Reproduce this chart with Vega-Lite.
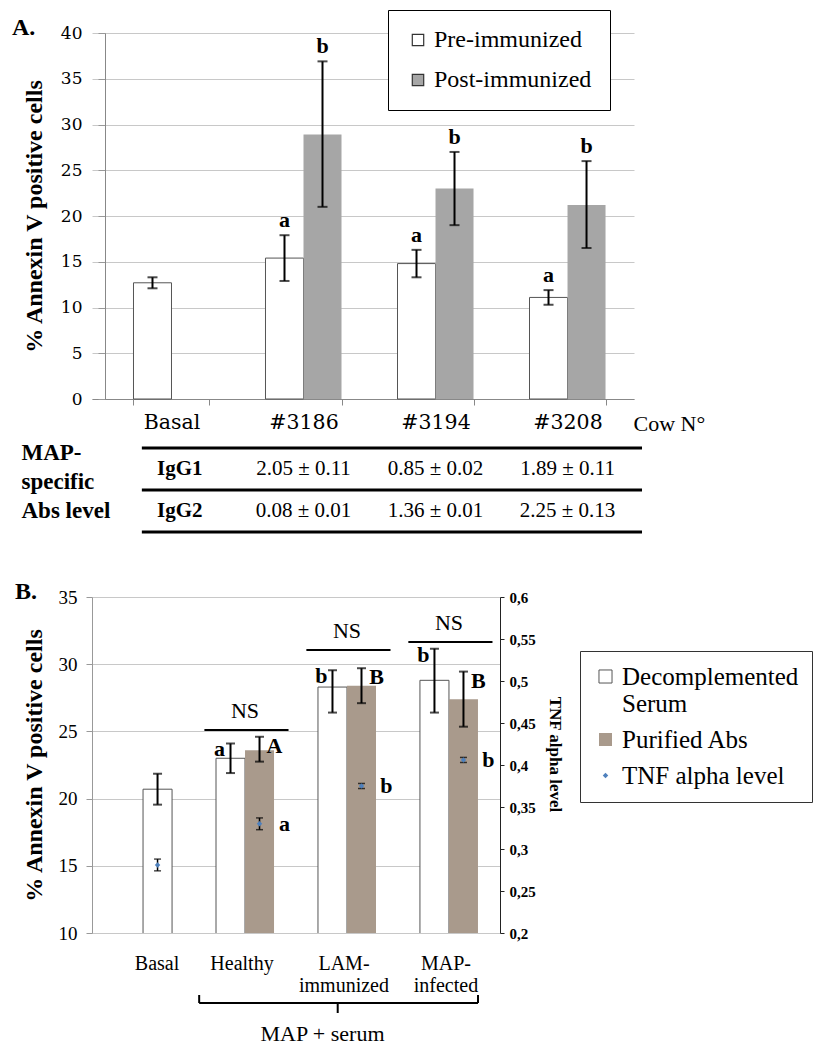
{
"$schema":"https://vega.github.io/schema/vega-lite/v6.json",
"background":"white",
"padding":{"left":12,"top":9,"right":0,"bottom":0},
"bounds":"flush",
"spacing":40,
"resolve":{"scale":{"fill":"independent","xOffset":"independent"},"legend":{"fill":"independent"}},
"config":{
  "view":{"stroke":null},
  "font":"Liberation Serif",
  "axis":{"gridColor":"#c8c8c8","domainColor":"#999999","tickColor":"#999999","labelColor":"black","titleColor":"black"},
  "legend":{"labelColor":"black"}
},
"vconcat":[
{
 "width":542,"height":366,
 "title":{"text":"A.","anchor":"start","frame":"group","dx":-80,"dy":18,"offset":-12,"fontSize":24,"fontWeight":"bold","font":"Liberation Serif","color":"black"},
 "data":{"values":[
  {"cow":"Basal","group":"Pre-immunized","value":12.7,"lo":12.1,"hi":13.3,"letter":""},
  {"cow":"#3186","group":"Pre-immunized","value":15.4,"lo":12.9,"hi":17.9,"letter":"a"},
  {"cow":"#3186","group":"Post-immunized","value":28.9,"lo":21.0,"hi":36.9,"letter":"b"},
  {"cow":"#3194","group":"Pre-immunized","value":14.8,"lo":13.3,"hi":16.3,"letter":"a"},
  {"cow":"#3194","group":"Post-immunized","value":23.0,"lo":19.0,"hi":27.0,"letter":"b"},
  {"cow":"#3208","group":"Pre-immunized","value":11.1,"lo":10.3,"hi":11.9,"letter":"a"},
  {"cow":"#3208","group":"Post-immunized","value":21.2,"lo":16.5,"hi":26.0,"letter":"b"}
 ]},
 "encoding":{
  "x":{"field":"cow","type":"nominal","sort":null,
       "scale":{"domain":["Basal","#3186","#3194","#3208"],"paddingInner":0.4242,"paddingOuter":0.265,"align":0.593},
       "axis":{"title":"Cow N°","titleAngle":0,"titleX":541,"titleY":24,"titleAlign":"left","titleBaseline":"middle","titleFontWeight":"normal","titleFontSize":22,"titleFont":"Liberation Serif",
               "labelAngle":0,"labelFont":"DejaVu Serif","labelFontSize":20.5,"labelPadding":7,"tickBand":"extent","tickSize":6,"domainColor":"#888888","tickColor":"#888888"}},
  "xOffset":{"field":"group","type":"nominal","scale":{"domain":["Pre-immunized","Post-immunized"]}}
 },
 "layer":[
  {"mark":{"type":"bar","stroke":"#555555","strokeWidth":1},
   "encoding":{
    "y":{"field":"value","type":"quantitative","scale":{"domain":[0,40],"nice":false},
         "axis":{"title":"% Annexin V positive cells","titleFontSize":24,"titleFont":"Liberation Serif","titleFontWeight":"bold","titlePadding":14,
                 "labelFont":"DejaVu Serif","labelFontSize":17,"labelPadding":16,"tickSize":7,"values":[0,5,10,15,20,25,30,35,40],"offset":-13,"grid":true,"domainColor":"#888888","tickColor":"#999999"}},
    "fill":{"field":"group","type":"nominal","scale":{"domain":["Pre-immunized","Post-immunized"],"range":["#ffffff","#a6a6a6"]},
            "legend":{"title":null,"orient":"none","legendX":296,"legendY":-23,"labelFontSize":24,"labelFont":"Liberation Serif","symbolType":"square","symbolSize":130,"symbolStrokeColor":"#333333","symbolStrokeWidth":1.2,"padding":18,"rowPadding":16,"labelOffset":4,"strokeColor":"black","fillColor":"white","labelLimit":300}},
    "strokeOpacity":{"condition":{"test":"datum.group === 'Post-immunized'","value":0},"value":1}
   }},
  {"mark":{"type":"rule","color":"black","strokeWidth":2},
   "encoding":{"y":{"field":"lo","type":"quantitative"},"y2":{"field":"hi"}}},
  {"mark":{"type":"tick","color":"black","thickness":2,"size":10},
   "encoding":{"y":{"field":"lo","type":"quantitative"}}},
  {"mark":{"type":"tick","color":"black","thickness":2,"size":10},
   "encoding":{"y":{"field":"hi","type":"quantitative"}}},
  {"transform":[{"filter":"datum.letter !== ''"}],
   "mark":{"type":"text","baseline":"alphabetic","dy":-8,"fontSize":22,"fontWeight":"bold","font":"Liberation Serif","color":"black"},
   "encoding":{"y":{"field":"hi","type":"quantitative"},"text":{"field":"letter"}}}
 ]
},
{
 "width":542,"height":118,
 "layer":[
  {"data":{"values":[{"row":"IgG1","edge":"top","from":"Basal","to":"#3208"},{"row":"IgG2","edge":"top","from":"Basal","to":"#3208"}]},
   "mark":{"type":"rule","color":"black","strokeWidth":3},
   "encoding":{
    "x":{"field":"from","type":"nominal","bandPosition":0.11,"scale":{"domain":["Basal","#3186","#3194","#3208"],"paddingInner":0.4242,"paddingOuter":0.265,"align":0.593},"axis":null},
    "x2":{"field":"to","bandPosition":1.48},
    "y":{"field":"row","type":"nominal","bandPosition":0,"scale":{"domain":["IgG1","IgG2"],"paddingInner":0,"paddingOuter":0.405,"align":0.265},
         "axis":{"title":["MAP-","specific","Abs level"],"labels":false,"ticks":false,"domain":false,"grid":false,"titleAngle":0,"titleX":-71,"titleY":2,"titleAlign":"left","titleBaseline":"top","titleLineHeight":29,"titleFontSize":23,"titleFontWeight":"bold","titleFont":"Liberation Serif"}}
   }},
  {"data":{"values":[{"row":"IgG2","edge":"bottom","from":"Basal","to":"#3208"}]},
   "mark":{"type":"rule","color":"black","strokeWidth":3},
   "encoding":{
    "x":{"field":"from","type":"nominal","bandPosition":0.11},
    "x2":{"field":"to","bandPosition":1.48},
    "y":{"field":"row","type":"nominal","bandPosition":1}
   }},
  {"data":{"values":[
    {"col":"Basal","row":"IgG1","text":"IgG1"},
    {"col":"Basal","row":"IgG2","text":"IgG2"}
   ]},
   "mark":{"type":"text","fontSize":21,"fontWeight":"bold","font":"Liberation Serif","color":"black","baseline":"middle"},
   "encoding":{
    "x":{"field":"col","type":"nominal","bandPosition":0.61},
    "y":{"field":"row","type":"nominal"},
    "text":{"field":"text"}
   }},
  {"data":{"values":[
    {"col":"#3186","row":"IgG1","text":"2.05 ± 0.11"},
    {"col":"#3194","row":"IgG1","text":"0.85 ± 0.02"},
    {"col":"#3208","row":"IgG1","text":"1.89 ± 0.11"},
    {"col":"#3186","row":"IgG2","text":"0.08 ± 0.01"},
    {"col":"#3194","row":"IgG2","text":"1.36 ± 0.01"},
    {"col":"#3208","row":"IgG2","text":"2.25 ± 0.13"}
   ]},
   "mark":{"type":"text","fontSize":21,"font":"Liberation Serif","color":"black","baseline":"middle"},
   "encoding":{
    "x":{"field":"col","type":"nominal"},
    "y":{"field":"row","type":"nominal"},
    "text":{"field":"text"}
   }}
 ]
},
{
 "width":408,"height":336,
 "title":{"text":"B.","anchor":"start","frame":"group","dx":-77,"dy":12,"offset":-4,"fontSize":24,"fontWeight":"bold","font":"Liberation Serif","color":"black"},
 "resolve":{"scale":{"y":"independent"}},
 "layer":[
  {"data":{"values":[
    {"group":"Basal","series":"Decomplemented Serum","slot":"2","value":20.7,"lo":19.55,"hi":21.85,"letter":""},
    {"group":"Healthy","series":"Decomplemented Serum","slot":"1","value":23.0,"lo":21.9,"hi":24.1,"letter":"a"},
    {"group":"Healthy","series":"Purified Abs","slot":"2","value":23.6,"lo":22.75,"hi":24.6,"letter":"A"},
    {"group":"LAM-immunized","series":"Decomplemented Serum","slot":"1","value":28.3,"lo":26.4,"hi":29.55,"letter":"b"},
    {"group":"LAM-immunized","series":"Purified Abs","slot":"2","value":28.4,"lo":27.1,"hi":29.7,"letter":"B"},
    {"group":"MAP-infected","series":"Decomplemented Serum","slot":"1","value":28.8,"lo":26.4,"hi":31.15,"letter":"b"},
    {"group":"MAP-infected","series":"Purified Abs","slot":"2","value":27.4,"lo":25.35,"hi":29.45,"letter":"B"}
   ]},
   "layer":[
    {"mark":{"type":"bar","stroke":"#555555","strokeWidth":1,"clip":true},
     "encoding":{
      "x":{"field":"group","type":"nominal","sort":null,
           "scale":{"domain":["Basal","Healthy","LAM-immunized","MAP-infected"],"paddingInner":0.431,"paddingOuter":0.216},
           "axis":{"title":null,"labelAngle":0,"domain":false,"ticks":false,"labelPadding":20,"labelFontSize":20,"labelFont":"Liberation Serif","labelLineHeight":22,"labelBaseline":"top",
                   "labelOffset":{"condition":{"test":"datum.value === 'Basal'","value":14},"value":-3},
                   "labelExpr":"datum.value == 'LAM-immunized' ? ['LAM-','immunized'] : datum.value == 'MAP-infected' ? ['MAP-','infected'] : datum.label"}},
      "xOffset":{"field":"slot","type":"nominal","scale":{"domain":["1","2"]}},
      "y":{"field":"value","type":"quantitative","scale":{"domain":[10,35],"nice":false,"zero":false},
           "axis":{"title":"% Annexin V positive cells","titleFontSize":24,"titleFont":"Liberation Serif","titleFontWeight":"bold","titlePadding":12,
                   "labelFontSize":19,"labelFont":"Liberation Serif","labelPadding":9,"tickSize":6,"values":[10,15,20,25,30,35],"grid":true,"domainColor":"#999999"}},
      "fill":{"field":"series","type":"nominal","scale":{"domain":["Decomplemented Serum","Purified Abs","TNF alpha level"],"range":["#ffffff","#a99a8c","#4f81bd"]},
              "legend":{"title":null,"orient":"none","legendX":488,"legendY":54,"labelFontSize":25,"labelFont":"Liberation Serif","labelLineHeight":29,"labelLimit":400,
                        "labelExpr":"datum.label == 'Decomplemented Serum' ? ['Decomplemented','Serum'] : datum.label",
                        "symbolType":"square","symbolSize":170,"symbolStrokeColor":"#555555","symbolStrokeWidth":1,"padding":13,"rowPadding":10,"labelOffset":4,"strokeColor":"#333333","fillColor":"white",
                        "encode":{"symbols":{"update":{"shape":{"signal":"datum.value == 'TNF alpha level' ? 'diamond' : 'square'"},"size":{"signal":"datum.value == 'TNF alpha level' ? 30 : 170"},"strokeOpacity":{"signal":"datum.value == 'Decomplemented Serum' ? 1 : 0"}}}}}},
      "strokeOpacity":{"condition":{"test":"datum.series === 'Purified Abs'","value":0},"value":1}
     }},
    {"mark":{"type":"rule","color":"black","strokeWidth":2},
     "encoding":{"x":{"field":"group","type":"nominal"},"xOffset":{"field":"slot","type":"nominal"},"y":{"field":"lo","type":"quantitative"},"y2":{"field":"hi"}}},
    {"mark":{"type":"tick","color":"black","thickness":2,"size":9},
     "encoding":{"x":{"field":"group","type":"nominal"},"xOffset":{"field":"slot","type":"nominal"},"y":{"field":"lo","type":"quantitative"}}},
    {"mark":{"type":"tick","color":"black","thickness":2,"size":9},
     "encoding":{"x":{"field":"group","type":"nominal"},"xOffset":{"field":"slot","type":"nominal"},"y":{"field":"hi","type":"quantitative"}}},
    {"transform":[{"filter":"datum.series === 'Decomplemented Serum' && datum.letter !== ''"}],
     "mark":{"type":"text","baseline":"middle","dx":-11,"dy":6,"fontSize":22,"fontWeight":"bold","font":"Liberation Serif","color":"black"},
     "encoding":{"x":{"field":"group","type":"nominal"},"xOffset":{"field":"slot","type":"nominal"},"y":{"field":"hi","type":"quantitative"},"text":{"field":"letter"}}},
    {"transform":[{"filter":"datum.series === 'Purified Abs'"}],
     "mark":{"type":"text","baseline":"middle","dx":15,"dy":9,"fontSize":22,"fontWeight":"bold","font":"Liberation Serif","color":"black"},
     "encoding":{"x":{"field":"group","type":"nominal"},"xOffset":{"field":"slot","type":"nominal"},"y":{"field":"hi","type":"quantitative"},"text":{"field":"letter"}}},
    {"data":{"values":[
      {"group":"Healthy","level":25.1,"label":"NS"},
      {"group":"LAM-immunized","level":31.05,"label":"NS"},
      {"group":"MAP-infected","level":31.65,"label":"NS"}
     ]},
     "layer":[
      {"mark":{"type":"rule","color":"black","strokeWidth":2},
       "encoding":{"x":{"field":"group","type":"nominal","bandPosition":-0.2},"x2":{"field":"group","bandPosition":1.25},"y":{"field":"level","type":"quantitative"}}},
      {"mark":{"type":"text","baseline":"alphabetic","dy":-12,"fontSize":22,"font":"Liberation Serif","color":"black"},
       "encoding":{"x":{"field":"group","type":"nominal","bandPosition":0.5},"y":{"field":"level","type":"quantitative"},"text":{"field":"label"}}}
     ]}
   ]},
  {"data":{"values":[
    {"group":"Basal","series":"TNF alpha level","slot":"2","value":0.281,"lo":0.274,"hi":0.288,"letter":""},
    {"group":"Healthy","series":"TNF alpha level","slot":"2","value":0.330,"lo":0.323,"hi":0.337,"letter":"a"},
    {"group":"LAM-immunized","series":"TNF alpha level","slot":"2","value":0.375,"lo":0.372,"hi":0.378,"letter":"b"},
    {"group":"MAP-infected","series":"TNF alpha level","slot":"2","value":0.406,"lo":0.403,"hi":0.409,"letter":"b"}
   ]},
   "layer":[
    {"mark":{"type":"rule","color":"black","strokeWidth":1.5},
     "encoding":{"x":{"field":"group","type":"nominal"},"xOffset":{"field":"slot","type":"nominal"},
      "y":{"field":"lo","type":"quantitative","scale":{"domain":[0.2,0.6],"nice":false,"zero":false},
           "axis":{"orient":"right","title":"TNF alpha level","titleAngle":90,"titleFontWeight":"bold","titleFontSize":17,"titleFont":"Liberation Serif","titlePadding":10,"titleY":157,
                   "labelFontWeight":"bold","labelFontSize":15,"labelFont":"Liberation Serif","values":[0.2,0.25,0.3,0.35,0.4,0.45,0.5,0.55,0.6],
                   "labelExpr":"replace(format(datum.value, '.2~f'), '.', ',')","domainColor":"#222222","tickColor":"#222222","tickSize":4,"labelPadding":5,"grid":false}},
      "y2":{"field":"hi"}}},
    {"mark":{"type":"tick","color":"black","thickness":1.5,"size":7},
     "encoding":{"x":{"field":"group","type":"nominal"},"xOffset":{"field":"slot","type":"nominal"},"y":{"field":"lo","type":"quantitative"}}},
    {"mark":{"type":"tick","color":"black","thickness":1.5,"size":7},
     "encoding":{"x":{"field":"group","type":"nominal"},"xOffset":{"field":"slot","type":"nominal"},"y":{"field":"hi","type":"quantitative"}}},
    {"mark":{"type":"point","shape":"diamond","filled":true,"size":30,"opacity":1},
     "encoding":{"x":{"field":"group","type":"nominal"},"xOffset":{"field":"slot","type":"nominal"},"y":{"field":"value","type":"quantitative"},
                 "fill":{"field":"series","type":"nominal"}}},
    {"transform":[{"filter":"datum.letter !== ''"}],
     "mark":{"type":"text","baseline":"middle","dx":25,"fontSize":22,"fontWeight":"bold","font":"Liberation Serif","color":"black"},
     "encoding":{"x":{"field":"group","type":"nominal"},"xOffset":{"field":"slot","type":"nominal"},"y":{"field":"value","type":"quantitative"},"text":{"field":"letter"}}}
   ]}
 ]
},
{
 "width":408,"height":40,
 "data":{"values":[{"from":"Healthy","mid":"LAM-immunized","to":"MAP-infected","label":"MAP + serum"}]},
 "layer":[
  {"mark":{"type":"rule","color":"black","strokeWidth":2},
   "encoding":{
    "x":{"field":"from","type":"nominal","bandPosition":-0.29,
         "scale":{"domain":["Basal","Healthy","LAM-immunized","MAP-infected"],"paddingInner":0.431,"paddingOuter":0.216},
         "axis":{"title":"MAP + serum","labels":false,"ticks":false,"domain":false,"titleFontSize":22,"titleFontWeight":"normal","titleFont":"Liberation Serif","titleX":230,"titleY":20,"titleAlign":"center","titleBaseline":"middle"}},
    "x2":{"field":"to","bandPosition":1.0},
    "y":{"datum":1,"type":"quantitative","scale":{"domain":[0,4],"nice":false},"axis":null}
   }},
  {"mark":{"type":"rule","color":"black","strokeWidth":2},
   "encoding":{"x":{"field":"from","type":"nominal","bandPosition":-0.29},"y":{"datum":1,"type":"quantitative"},"y2":{"datum":1.8}}},
  {"mark":{"type":"rule","color":"black","strokeWidth":2},
   "encoding":{"x":{"field":"to","type":"nominal","bandPosition":1.0},"y":{"datum":1,"type":"quantitative"},"y2":{"datum":1.8}}},
  {"mark":{"type":"rule","color":"black","strokeWidth":2},
   "encoding":{"x":{"field":"mid","type":"nominal","bandPosition":0.34},"y":{"datum":0,"type":"quantitative"},"y2":{"datum":1}}}
 ]
}
]
}
